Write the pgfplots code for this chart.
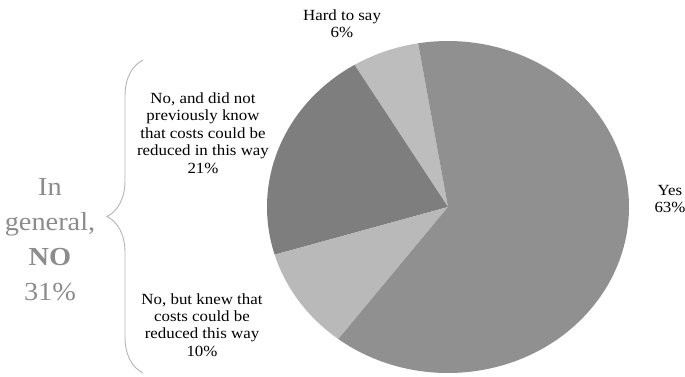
\documentclass[border=0pt]{standalone}
\usepackage{pgfplots}
\pgfplotsset{compat=1.18}
\usepackage{fontspec}
\setmainfont{Liberation Serif}[FakeStretch=1.09]
\usetikzlibrary{decorations.pathreplacing}
\definecolor{yesc}{HTML}{909090}
\definecolor{no21c}{HTML}{7E7E7E}
\definecolor{hardc}{HTML}{BDBDBD}
\definecolor{no10c}{HTML}{B9B9B9}
\definecolor{bigtxt}{HTML}{8C8C8C}
\definecolor{bracec}{HTML}{B4B4B4}
\begin{document}
\begin{tikzpicture}
\begin{axis}[
  name=ax,
  width=685pt, height=376pt, scale only axis,
  xmin=0, xmax=685, ymin=0, ymax=376,
  hide axis, clip=false,
]
% pie: centre (448,169), radii 181 x 166, first slice starts at 99.5 deg
\gdef\curangle{99.5}
\foreach \v/\c in {6/hardc, 21/no21c, 10/no10c, 63/yesc}{
  \pgfmathsetmacro{\endangle}{\curangle+3.6*\v}
  \edef\slice{\noexpand\fill[\c] (axis cs:448,169) -- ++(\curangle:181pt and 166pt)
    arc[start angle=\curangle, end angle=\endangle, x radius=181pt, y radius=166pt] -- cycle;}
  \slice
  \xdef\curangle{\endangle}
}
\node[align=center, font=\fontsize{15.5}{17.4}\selectfont] at (axis cs:342,352) {Hard to say\\6\%};
\node[align=center, font=\fontsize{15.5}{17.4}\selectfont] at (axis cs:203,243) {No, and did not\\previously know\\that costs could be\\reduced in this way\\21\%};
\node[align=center, font=\fontsize{15.5}{17.4}\selectfont] at (axis cs:202,51) {No, but knew that\\costs could be\\reduced this way\\10\%};
\node[align=center, font=\fontsize{15.5}{17.4}\selectfont] at (axis cs:670,177) {Yes\\63\%};
\node[align=center, text=bigtxt, font=\fontsize{26}{35}\selectfont] at (axis cs:50,136) {In\\general,\\\textbf{NO}\\31\%};
\draw[bracec, line width=0.9pt, decorate, decoration={brace, amplitude=36pt}] (axis cs:143,3) -- (axis cs:143,316);
\end{axis}
\pgfresetboundingbox
\useasboundingbox (ax.south west) rectangle (ax.north east);
\end{tikzpicture}
\end{document}
